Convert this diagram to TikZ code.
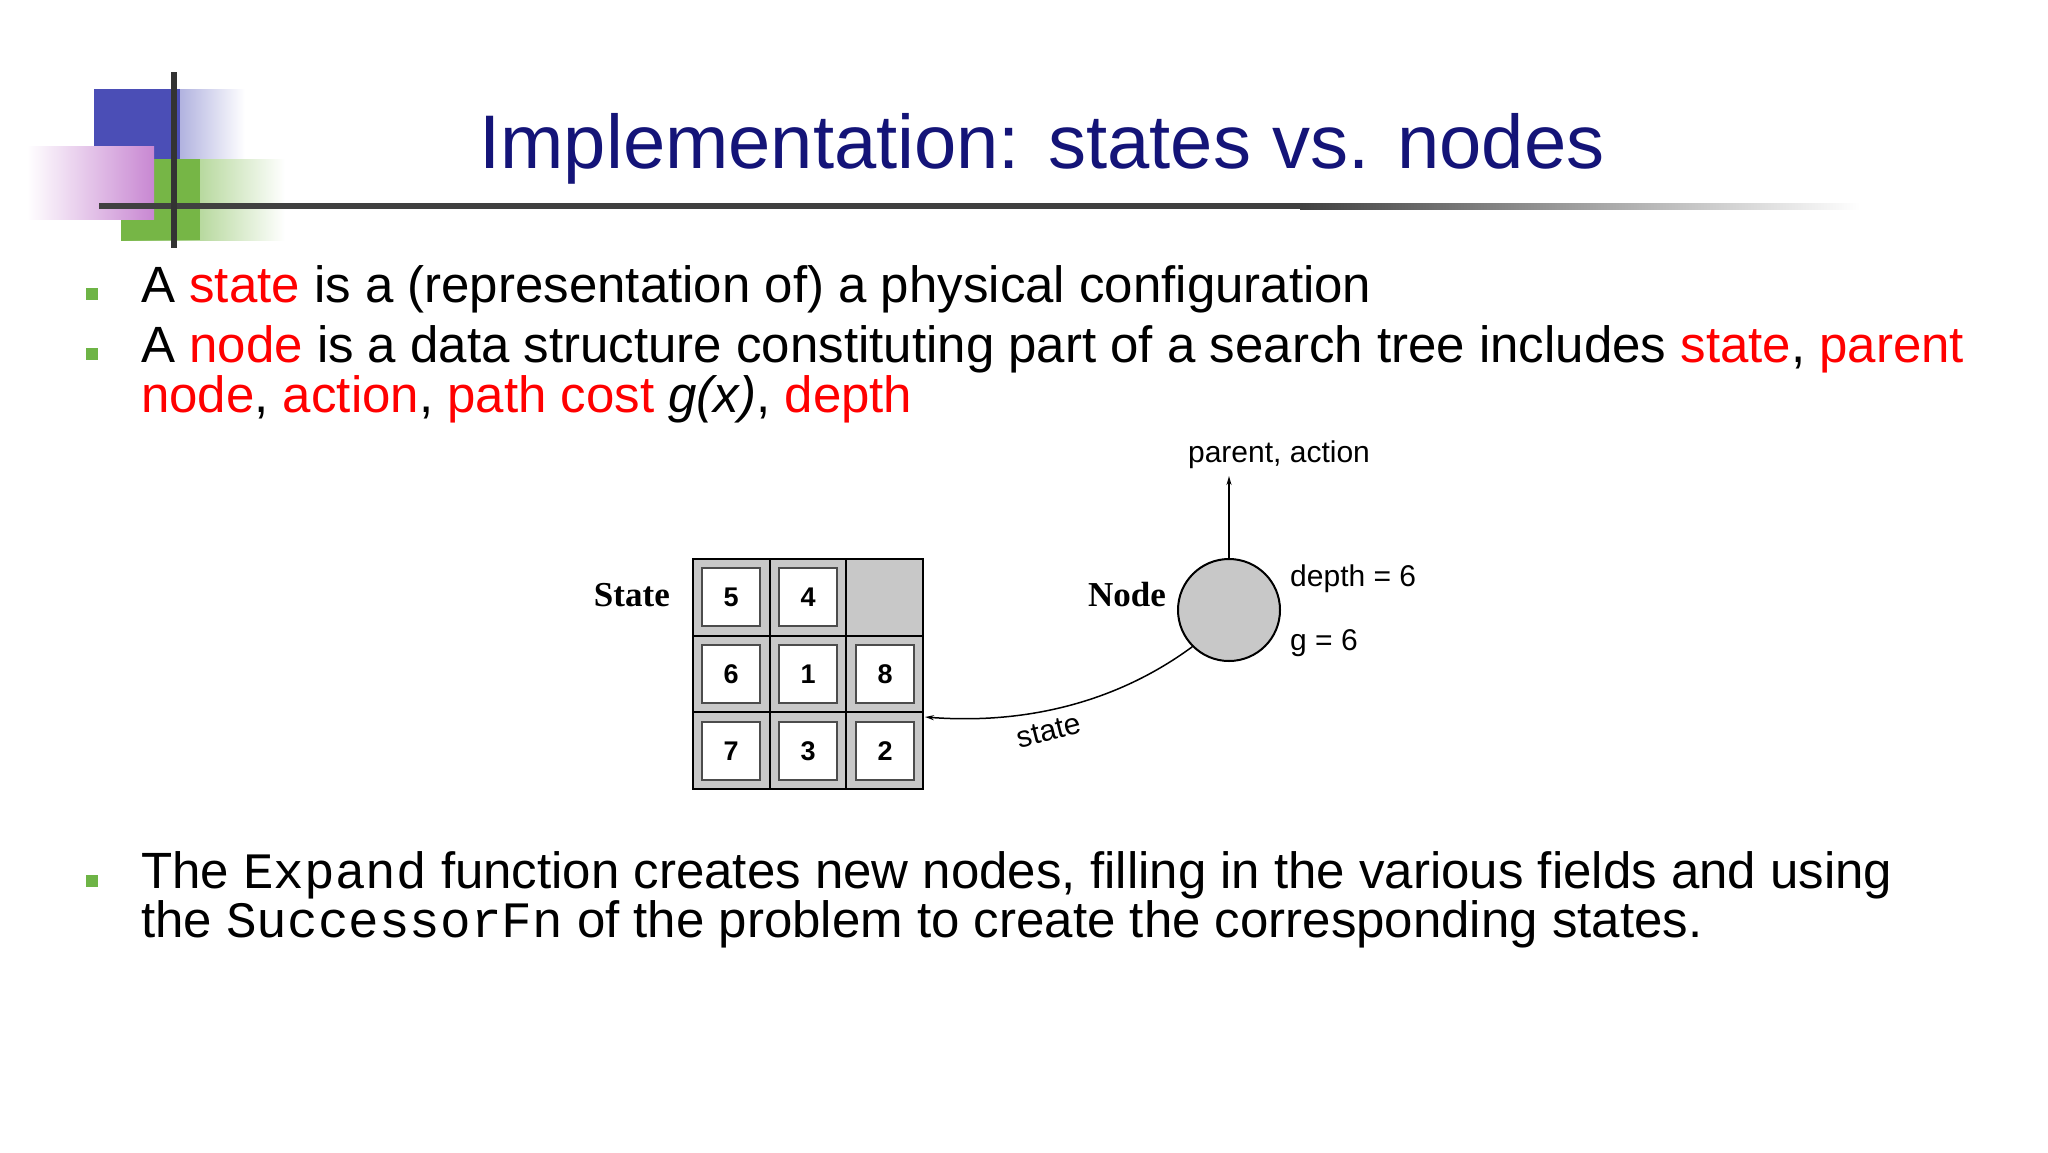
\documentclass[tikz,border=0pt]{standalone}
\usepackage{fontspec}
\setmainfont{Liberation Sans}
\setmonofont{Liberation Mono}
\newfontfamily\serifb{Liberation Serif}
\usetikzlibrary{arrows.meta,fadings}
\definecolor{navy}{RGB}{20,20,120}
\definecolor{sqblue}{RGB}{75,78,182}
\definecolor{sqgreen}{RGB}{118,182,70}
\definecolor{sqpink}{RGB}{200,135,210}
\definecolor{bul}{RGB}{110,180,70}
\definecolor{tilegray}{RGB}{200,200,200}
\newcommand{\rd}[1]{\textcolor{red}{#1}}
\begin{document}
\begin{tikzpicture}[x=1pt,y=-1pt,
  body/.style={anchor=base west,inner sep=0pt,font=\fontsize{51}{56}\selectfont},
  bulletsq/.style={fill=bul,draw=none,minimum size=12pt,inner sep=0pt},
  tile/.style={draw=black!70,fill=white,line width=1.5pt,minimum width=58pt,minimum height=58pt,inner sep=0pt,font=\fontsize{27}{30}\selectfont\bfseries},
  lbl/.style={inner sep=0pt,font=\fontsize{30}{33}\selectfont}]
\useasboundingbox (0,0) rectangle (2048,1152);
\fill[white] (0,0) rectangle (2048,1152);
% logo
\shade[left color=sqblue,right color=white] (94,89) rectangle (245,159);
\fill[sqblue] (94,89) rectangle (180,159);
\shade[left color=sqgreen,right color=white] (121,159) rectangle (285,240);
\fill[sqgreen] (121,159) rectangle (200,240);
\shade[left color=white,right color=sqpink] (27,146) rectangle (154,219);
\shade[left color=black!75,right color=white] (1300,203) rectangle (1860,209);
\fill[black!75] (99,203) rectangle (1300,209);
\fill[black!80] (171,72) rectangle (177,248);
% title
\node[anchor=base,inner sep=0pt,text=navy,font=\fontsize{76}{80}\selectfont] (title) at (1042,168) {Implementation: states vs. nodes};
% bullets
\node[bulletsq] (b1) at (92,294) {};
\node[bulletsq] (b2) at (92,354) {};
\node[bulletsq] (b3) at (92,881) {};
\node[body] (t1) at (141,302) {A \rd{state} is a (representation of) a physical configuration};
\node[body] (t2) at (141,362) {A \rd{node} is a data structure constituting part of a search tree includes \rd{state}, \rd{parent}};
\node[body] (t3) at (141,412) {\rd{node}, \rd{action}, \rd{path cost} \textit{g(x)}, \rd{depth}};
\node[body] (t4) at (141,888) {The \texttt{Expand} function creates new nodes, filling in the various fields and using};
\node[body] (t5) at (141,937) {the \texttt{SuccessorFn} of the problem to create the corresponding states.};
% grid
\fill[tilegray] (693,559) rectangle (923,789);
\foreach \i in {1,2} {
  \draw[line width=2pt] (693+76.67*\i,559) -- (693+76.67*\i,789);
  \draw[line width=2pt] (693,559+76.67*\i) -- (923,559+76.67*\i);
}
\draw[line width=2.5pt] (693,559) rectangle (923,789);
\node[tile] (c5) at (731,597) {5};
\node[tile] (c4) at (808,597) {4};
\node[tile] (c6) at (731,674) {6};
\node[tile] (c1) at (808,674) {1};
\node[tile] (c8) at (885,674) {8};
\node[tile] (c7) at (731,751) {7};
\node[tile] (c3) at (808,751) {3};
\node[tile] (c2) at (885,751) {2};
\coordinate (gridin) at (925,717);
\node[anchor=east,inner sep=0pt,font=\serifb\fontsize{35}{37}\selectfont\bfseries] (statel) at (670,595) {State};
\node[anchor=east,inner sep=0pt,font=\serifb\fontsize{35}{37}\selectfont\bfseries] (nodel) at (1166,595) {Node};
\node[circle,draw,line width=2pt,fill=tilegray,minimum size=102pt,inner sep=0pt] (nd) at (1229,610) {};
\node[lbl,anchor=base] (pa) at (1279,462) {parent, action};
\draw[-{Stealth[length=9pt,width=5pt]},line width=1.5pt] (nd.north) -- (1229,476);
\node[lbl,anchor=base west] (dp) at (1290,586) {depth = 6};
\node[lbl,anchor=base west] (gl) at (1290,650) {g = 6};
\draw[-{Stealth[length=9pt,width=5pt]},line width=1.5pt] (nd.225) .. controls (1120,700) and (1030,725) .. (gridin);
\node[lbl,rotate=14] (st) at (1049,731) {state};
\end{tikzpicture}
\end{document}
